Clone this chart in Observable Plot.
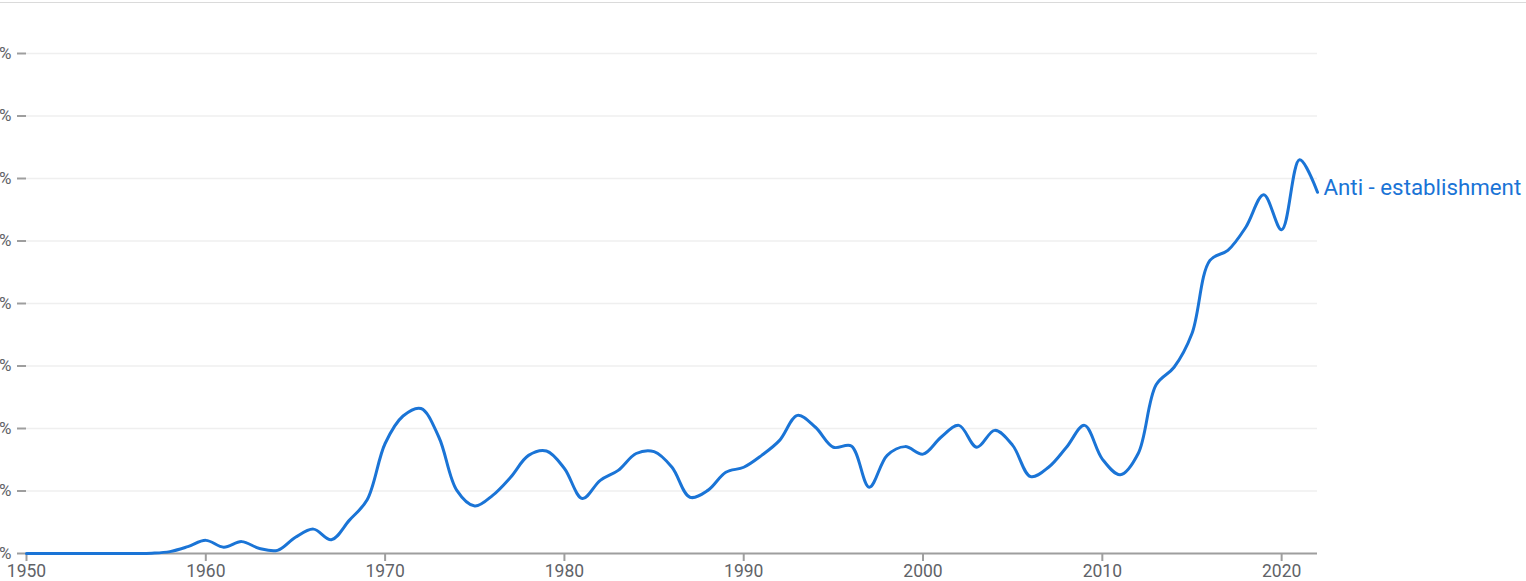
<!DOCTYPE html>
<html>
<head>
<meta charset="utf-8">
<script src="https://cdn.jsdelivr.net/npm/d3@7"></script>
<script src="https://cdn.jsdelivr.net/npm/@observablehq/plot@0.6"></script>
<style>
  html, body { margin: 0; padding: 0; background: #fff; overflow: hidden; }
  #wrap { position: relative; width: 1526px; height: 581px; }
  #topline { position: absolute; top: 2px; left: 0; width: 1526px; height: 1px; background: #dadada; }
  #chart svg { display: block; }
</style>
</head>
<body>
<div id="wrap">
  <div id="chart"></div>
  <div id="topline"></div>
</div>
<script>
const seriesName = "Anti - establishment";
const years = d3.range(1950, 2023);
const values = [
  0, 0, 0, 0, 0, 0, 0, 0.005, 0.03, 0.11,          // 1950-1959
  0.21, 0.10, 0.19, 0.08, 0.05, 0.26, 0.39, 0.22, 0.53, 0.86, // 1960-1969
  1.76, 2.20, 2.32, 1.86, 1.01, 0.76, 0.93, 1.22, 1.57, 1.64, // 1970-1979
  1.36, 0.88, 1.17, 1.33, 1.60, 1.63, 1.38, 0.90, 1.01, 1.30, // 1980-1989
  1.38, 1.57, 1.81, 2.21, 2.02, 1.70, 1.72, 1.06, 1.57, 1.71, // 1990-1999
  1.59, 1.86, 2.05, 1.70, 1.97, 1.73, 1.23, 1.38, 1.70, 2.05, // 2000-2009
  1.51, 1.26, 1.60, 2.70, 2.98, 3.52, 4.69, 4.85, 5.22, 5.74, // 2010-2019
  5.18, 6.30, 5.78                                            // 2020-2022
];
const yTicks = [0, 1, 2, 3, 4, 5, 6, 7, 8];
const yTickLabel = "%";
const xTicks = [1950, 1960, 1970, 1980, 1990, 2000, 2010, 2020];

const data = years.map((y, i) => ({year: y, value: values[i]}));
const last = data[data.length - 1];

const blue = "#1a74d6";
const axisGray = "#9e9e9e";
const labelGray = "#5f6368";

const chart = Plot.plot({
  width: 1526,
  height: 581,
  marginLeft: 26,
  marginRight: 209,
  marginTop: 53,
  marginBottom: 28,
  style: {fontFamily: "Roboto, sans-serif", background: "#fff"},
  x: {domain: [1950, 2022]},
  y: {domain: [0, 8]},
  marks: [
    Plot.gridY(yTicks.filter(d => d > 0), {stroke: "#efefef", strokeOpacity: 1, strokeWidth: 1.5}),
    Plot.axisY(yTicks, {
      tickSize: 9, tickPadding: 6, stroke: axisGray, strokeWidth: 2,
      fontSize: 17, fill: labelGray,
      tickFormat: () => yTickLabel,
      label: null
    }),
    Plot.axisX(xTicks, {
      tickSize: 8, tickPadding: 3, stroke: axisGray, strokeWidth: 2,
      fontSize: 17.5, fill: labelGray,
      tickFormat: d => String(d),
      label: null
    }),
    Plot.ruleY([0], {stroke: axisGray, strokeWidth: 2}),
    Plot.line(data, {x: "year", y: "value", stroke: blue, strokeWidth: 3, curve: "catmull-rom"}),
    Plot.text([last], {x: "year", y: "value", text: () => seriesName, textAnchor: "start", dx: 6, dy: -4, fontSize: 22.3, fill: blue})
  ]
});
document.getElementById("chart").appendChild(chart);
</script>
</body>
</html>
